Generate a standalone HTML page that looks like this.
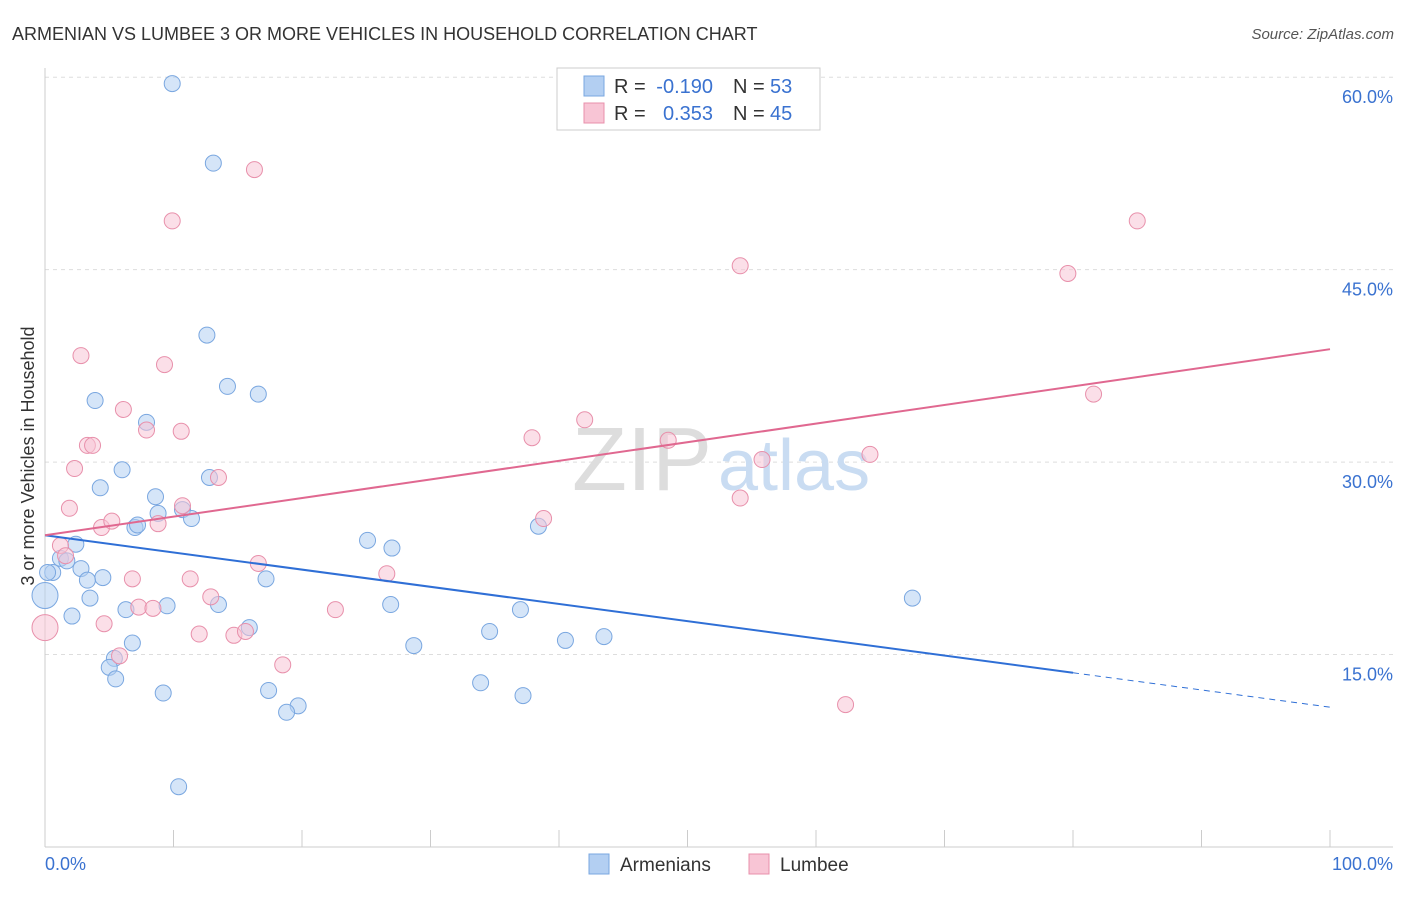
<!DOCTYPE html>
<html><head><meta charset="utf-8"><style>
body{margin:0;background:#fff;font-family:"Liberation Sans",sans-serif}
svg text{font-family:"Liberation Sans",sans-serif}
</style></head><body>
<svg width="1406" height="892" viewBox="0 0 1406 892" xmlns="http://www.w3.org/2000/svg">
<text x="12" y="40" font-size="18" fill="#333">ARMENIAN VS LUMBEE 3 OR MORE VEHICLES IN HOUSEHOLD CORRELATION CHART</text>
<text x="1394" y="39" font-size="15" fill="#555" font-style="italic" text-anchor="end">Source: ZipAtlas.com</text>
<g id="grid"></g>
<text x="712" y="490" font-size="90" font-family="Liberation Serif" fill="#ddd" text-anchor="end">ZIP</text>
<text x="718" y="490" font-size="72" fill="#c9dcf2">atlas</text>
<g id="marks"></g>
<g>
<rect x="557" y="68" width="263" height="62" fill="#fff" stroke="#ccc"/>
<rect x="584" y="76" width="20" height="20" fill="#b3cff2" stroke="#7aa7e0"/>
<rect x="584" y="103" width="20" height="20" fill="#f8c5d5" stroke="#e890ab"/>
<text x="614" y="93" font-size="20" fill="#333">R =</text>
<text x="713" y="93" font-size="20" fill="#3a72d0" text-anchor="end">-0.190</text>
<text x="733" y="93" font-size="20" fill="#333">N =</text>
<text x="770" y="93" font-size="20" fill="#3a72d0">53</text>
<text x="614" y="120" font-size="20" fill="#333">R =</text>
<text x="713" y="120" font-size="20" fill="#3a72d0" text-anchor="end">0.353</text>
<text x="733" y="120" font-size="20" fill="#333">N =</text>
<text x="770" y="120" font-size="20" fill="#3a72d0">45</text>
</g>
<text transform="translate(34,456) rotate(-90)" font-size="18" fill="#333" text-anchor="middle">3 or more Vehicles in Household</text>
<text x="45" y="870" font-size="18" fill="#3a72d0">0.0%</text>
<text x="1393" y="870" font-size="18" fill="#3a72d0" text-anchor="end">100.0%</text>
<g>
<rect x="589" y="854" width="20" height="20" fill="#b3cff2" stroke="#7aa7e0"/>
<text x="620" y="871" font-size="19" fill="#333">Armenians</text>
<rect x="749" y="854" width="20" height="20" fill="#f8c5d5" stroke="#e890ab"/>
<text x="780" y="871" font-size="19" fill="#333">Lumbee</text>
</g>
</svg>
<script>
const yTicks=[15,30,45,60];
const yTickLabels=["15.0%","30.0%","45.0%","60.0%"];
const blueX=[9.9,13.1,12.6,14.2,16.6,3.9,7.9,6.0,4.3,12.8,8.6,8.8,10.7,11.4,7.0,7.2,2.4,1.2,1.7,0.6,2.8,4.5,3.3,3.5,2.1,6.3,9.5,13.5,17.2,15.9,6.8,5.4,5.0,5.5,9.2,17.4,19.7,18.8,10.4,25.1,27.0,26.9,28.7,33.9,34.6,37.0,37.2,38.4,40.5,43.5,67.5,0,0.2];
const blueY=[59.5,53.3,39.9,35.9,35.3,34.8,33.1,29.4,28.0,28.8,27.3,26.0,26.3,25.6,24.9,25.1,23.6,22.5,22.3,21.4,21.7,21.0,20.8,19.4,18.0,18.5,18.8,18.9,20.9,17.1,15.9,14.7,14.0,13.1,12.0,12.2,11.0,10.5,4.7,23.9,23.3,18.9,15.7,12.8,16.8,18.5,11.8,25.0,16.1,16.4,19.4,19.6,21.4];
const pinkX=[16.3,9.9,2.8,9.3,6.1,7.9,10.6,3.3,3.7,2.3,1.9,13.5,10.7,4.4,5.2,8.8,1.2,1.6,16.6,6.8,11.3,26.6,12.9,7.3,8.4,4.6,12.0,14.7,15.6,5.8,18.5,22.6,0,37.9,42.0,48.5,38.8,54.1,54.1,55.8,62.3,64.2,79.6,81.6,85.0];
const pinkY=[52.8,48.8,38.3,37.6,34.1,32.5,32.4,31.3,31.3,29.5,26.4,28.8,26.6,24.9,25.4,25.2,23.5,22.7,22.1,20.9,20.9,21.3,19.5,18.7,18.6,17.4,16.6,16.5,16.8,14.9,14.2,18.5,17.1,31.9,33.3,31.7,25.6,45.3,27.2,30.2,11.1,30.6,44.7,35.3,48.8];
const blueBig=[51], pinkBig=[32];
const blueTrend=[24.3,10.9], pinkTrend=[24.3,38.8];
const blueSolidEnd=80;
const NS="http://www.w3.org/2000/svg";
const X=v=>45+v*12.85, Y=v=>847-v*12.83;
const grid=document.getElementById('grid'), marks=document.getElementById('marks');
function mk(p,tag,a){const e=document.createElementNS(NS,tag);for(const k in a)e.setAttribute(k,a[k]);p.appendChild(e);return e;}
yTicks.forEach((t,i)=>{
 const l=mk(grid,'line',{x1:45,x2:1393,y1:Y(t),y2:Y(t),stroke:'#ddd','stroke-dasharray':'4,4'});
 
 
 const tx=mk(grid,'text',{x:1393,y:Y(t)+26,'font-size':18,fill:'#3a72d0','text-anchor':'end'});
 tx.textContent=yTickLabels[i];
 
 
});
for(let i=0;i<=10;i++){const t=mk(grid,'line',{x1:X(i*10),x2:X(i*10),y1:830,y2:847,stroke:'#ccc'});
 
 }
const ax=mk(grid,'line',{x1:45,x2:45,y1:68,y2:847,stroke:'#ccc'});


const bx=mk(grid,'line',{x1:45,x2:1393,y1:847,y2:847,stroke:'#ccc'});


function pts(xs,ys,big,fill,stroke,name){xs.forEach((x,i)=>{
 const c=mk(marks,'circle',{cx:X(x),cy:Y(ys[i]),r:big.includes(i)?13:8,fill:fill,'fill-opacity':0.55,stroke:stroke,'stroke-width':1});
 
 });}
pts(blueX,blueY,blueBig,'#b3cff2','#7aa7e0','armenian-point');
pts(pinkX,pinkY,pinkBig,'#f8c5d5','#e890ab','lumbee-point');
const bAt=v=>blueTrend[0]+(blueTrend[1]-blueTrend[0])*v/100;
const l1=mk(marks,'line',{x1:X(0),y1:Y(bAt(0)),x2:X(blueSolidEnd),y2:Y(bAt(blueSolidEnd)),stroke:'#2f6fd6','stroke-width':2});


const l2=mk(marks,'line',{x1:X(blueSolidEnd),y1:Y(bAt(blueSolidEnd)),x2:X(100),y2:Y(bAt(100)),stroke:'#2f6fd6','stroke-width':1,'stroke-dasharray':'6,5'});


const l3=mk(marks,'line',{x1:X(0),y1:Y(pinkTrend[0]),x2:X(100),y2:Y(pinkTrend[1]),stroke:'#e06890','stroke-width':2});


</script>
</body></html>
